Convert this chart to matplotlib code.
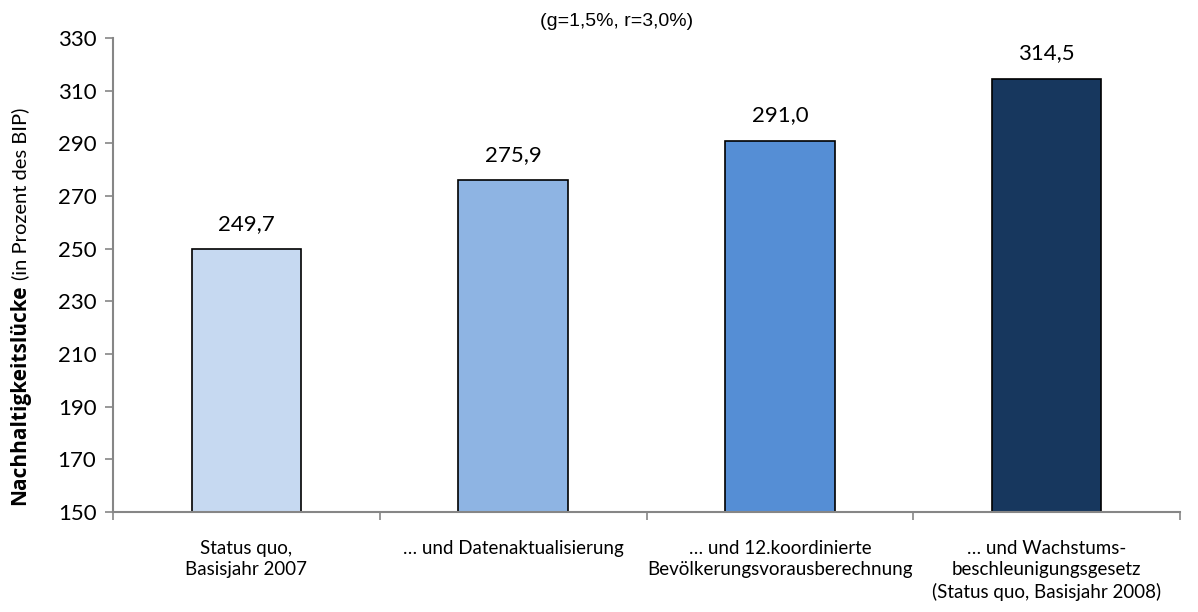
import matplotlib
matplotlib.use("Agg")
import matplotlib.pyplot as plt

categories = ["Status quo,\nBasisjahr 2007",
              "… und Datenaktualisierung\n\n",
              "… und 12.koordinierte\nBevölkerungsvorausberechnung",
              "… und Wachstums-\nbeschleunigungsgesetz\n(Status quo, Basisjahr 2008)"]
values = [249.7, 275.9, 291.0, 314.5]
labels = ["249,7", "275,9", "291,0", "314,5"]
colors = ["#C6D9F1", "#8EB4E3", "#558ED5", "#17375E"]
yticks = [150, 170, 190, 210, 230, 250, 270, 290, 310, 330]

plt.rcParams['font.family'] = ['Lato', 'DejaVu Sans']

fig = plt.figure(figsize=(11.98, 6.12), dpi=100)
ax = fig.add_axes([113/1198, 1 - 512/612, (1180-113)/1198, (512-38)/612])

x = list(range(len(values)))
ax.bar(x, [v - 150 for v in values], bottom=150, width=0.41, color=colors,
       edgecolor="black", linewidth=1.2)
for xi, v, l in zip(x, values, labels):
    ax.text(xi, v + 5.8, l, ha="center", va="bottom", fontsize=16)

ax.set_xlim(-0.5, 3.5)
ax.set_ylim(150, 330)
ax.set_yticks(yticks)
ax.tick_params(axis="y", labelsize=16, length=6, color="#868686", width=1.2, pad=6)
ax.set_xticks([-0.5, 0.5, 1.5, 2.5, 3.5])
ax.set_xticklabels([])
ax.tick_params(axis="x", length=6, color="#868686", width=1.2)
for xi, c in zip(x, categories):
    ax.text(xi, 139.5, c, ha="center", va="top", fontsize=13.5, linespacing=1.33)

for s in ["top", "right"]:
    ax.spines[s].set_visible(False)
for s in ["left", "bottom"]:
    ax.spines[s].set_color("#868686")
    ax.spines[s].set_linewidth(1.5)

t1 = fig.text(20/1198, 1 - 505/612, "Nachhaltigkeitslücke", rotation=90, ha="center",
              va="bottom", fontsize=15, fontweight="bold",
              family=['Open Sans', 'DejaVu Sans'])
fig.canvas.draw()
bb = t1.get_window_extent()
fig.text(20/1198, (bb.y1 + 5) / 612, "(in Prozent des BIP)", rotation=90, ha="center",
         va="bottom", fontsize=14.5)

fig.text(617/1198, 1 - 21/612, "(g=1,5%, r=3,0%)", ha="center", va="center", fontsize=14,
         family=['Liberation Sans', 'DejaVu Sans'])

fig.savefig("out.png", dpi=100)
